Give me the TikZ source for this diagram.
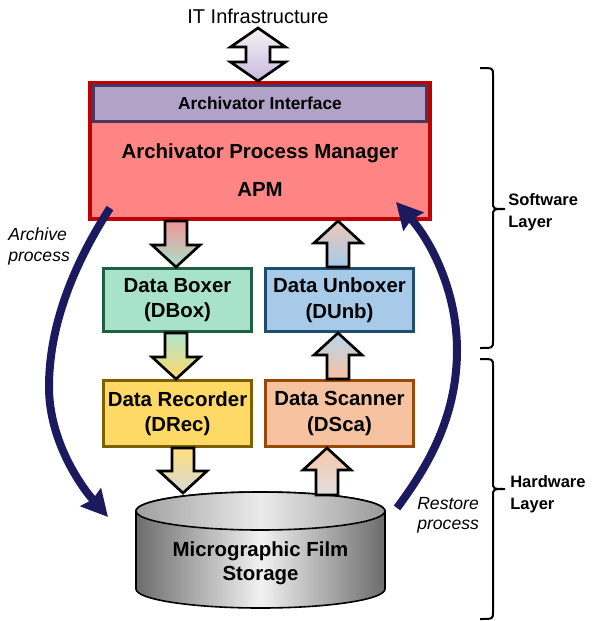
\documentclass[tikz,border=0pt]{standalone}
\usepackage{fontspec}
\setmainfont{Liberation Sans}
\usetikzlibrary{arrows.meta,calc}
\definecolor{navyarc}{RGB}{27,26,94}
\definecolor{apmfill}{RGB}{255,133,133}
\definecolor{apmline}{RGB}{192,0,0}
\definecolor{iffill}{RGB}{179,162,199}
\definecolor{ifline}{RGB}{72,56,96}
\definecolor{boxfill}{RGB}{168,226,203}
\definecolor{boxline}{RGB}{33,94,70}
\definecolor{unbfill}{RGB}{167,202,232}
\definecolor{unbline}{RGB}{31,77,110}
\definecolor{recfill}{RGB}{255,217,102}
\definecolor{recline}{RGB}{127,96,0}
\definecolor{scafill}{RGB}{246,194,160}
\definecolor{scaline}{RGB}{152,72,7}
\definecolor{lav}{RGB}{200,184,222}
\definecolor{pinkarr}{RGB}{240,150,150}
\definecolor{peacharr}{RGB}{236,200,185}
\definecolor{lgray}{RGB}{215,215,215}
\definecolor{cyldark}{RGB}{108,108,108}
\definecolor{cyllight}{RGB}{242,242,242}
\newcommand\blkarrow[5]{%
  \shade[blk, top color=#4, bottom color=#5]
    ($(#1)+(-11,0)$) -- ($(#2)+(-11,#3)$) -- ($(#2)+(-24,#3)$) -- (#2)
    -- ($(#2)+(24,#3)$) -- ($(#2)+(11,#3)$) -- ($(#1)+(11,0)$) -- cycle;}
\begin{document}
\begin{tikzpicture}[x=0.75pt,y=-0.75pt,
  blk/.style={draw=black, line width=2pt, line join=miter},
  box/.style={draw, line width=2.25pt, inner sep=0pt, align=center,
    font=\fontsize{15.3}{19.1}\selectfont\bfseries,
    minimum width=111pt},
  procarc/.style={draw=navyarc, line width=6pt,
    -{Stealth[length=19.5pt, width=20pt, inset=2pt]}},
  bracepath/.style={draw=black, line width=1.5pt},
  layertext/.style={anchor=west, align=left, inner sep=0pt,
    font=\fontsize{12.4}{16}\selectfont\bfseries},
  proctext/.style={anchor=west, align=left, inner sep=0pt,
    font=\fontsize{13.2}{15.5}\selectfont\itshape}]
\useasboundingbox (0,0) rectangle (593,621);

% top label and double arrow
\node[anchor=base, inner sep=0pt, font=\fontsize{15}{18}\selectfont] (it) at (258,23) {IT Infrastructure};

% main boxes
\node[draw=apmline, fill=apmfill, line width=3pt, inner sep=0pt,
      minimum width=255pt, minimum height=102pt] (apm) at (260,151) {};
\node[draw=ifline, fill=iffill, line width=2.25pt, inner sep=0pt,
      minimum width=249.75pt, minimum height=27pt,
      font=\fontsize{13}{15}\selectfont\bfseries] (iface) at (260,103.5) {Archivator Interface};
\node[align=center, inner sep=0pt, font=\fontsize{15.3}{28.9}\selectfont\bfseries]
      (apmtext) at (260,170.3) {Archivator Process Manager\\APM};

\node[box, draw=boxline, fill=boxfill, minimum height=47.25pt] (boxer) at (177.5,300) {Data Boxer\\(DBox)};
\node[box, draw=unbline, fill=unbfill, minimum height=47.25pt] (unboxer) at (339.5,300) {Data Unboxer\\(DUnb)};
\node[box, draw=recline, fill=recfill, minimum height=49.5pt] (recorder) at (177.5,413.5) {Data Recorder\\(DRec)};
\node[box, draw=scaline, fill=scafill, minimum height=49.5pt] (scanner) at (339.5,413.5) {Data Scanner\\(DSca)};

% cylinder
\shade[left color=cyldark, right color=cyldark, middle color=cyllight, draw=black, line width=1.2pt]
  (136,511) -- (136,589) arc[start angle=180, end angle=0, x radius=124.5, y radius=19]
  -- (385,511) arc[start angle=0, end angle=-180, x radius=124.5, y radius=19] -- cycle;
\shade[left color=gray!75, right color=gray!80, middle color=white!92!black, draw=black, line width=1.2pt]
  (260.5,511) ellipse[x radius=124.5, y radius=19];
\node[align=center, inner sep=0pt, font=\fontsize{15.3}{18}\selectfont\bfseries]
  (store) at (260.5,563.2) {Micrographic Film\\Storage};

% connector coordinates
\coordinate (dtop) at (258,28);
\coordinate (dbot) at (258,0 |- apm.north);
\coordinate (a1s) at (176,0 |- apm.south);
\coordinate (a1t) at (176,0 |- boxer.north);
\coordinate (a2s) at (176,0 |- boxer.south);
\coordinate (a2t) at (176,0 |- recorder.north);
\coordinate (a3s) at (183,0 |- recorder.south);
\coordinate (a3t) at (183,493);
\coordinate (b1s) at (338,0 |- unboxer.north);
\coordinate (b1t) at (338,0 |- apm.south);
\coordinate (b2s) at (338,0 |- scanner.north);
\coordinate (b2t) at (338,0 |- unboxer.south);
\coordinate (b3s) at (327,495);
\coordinate (b3t) at (327,0 |- scanner.south);

% double arrow
\shade[blk, top color=white!96!black, bottom color=lav]
  (dtop) -- ($(dtop)+(27.5,19)$) -- ($(dtop)+(12,19)$) -- ($(dbot)+(12,-19)$)
  -- ($(dbot)+(27.5,-19)$) -- (dbot) -- ($(dbot)+(-27.5,-19)$) -- ($(dbot)+(-12,-19)$)
  -- ($(dtop)+(-12,19)$) -- ($(dtop)+(-27.5,19)$) -- cycle;

% block arrows
\blkarrow{a1s}{a1t}{-22}{pinkarr}{boxfill}
\blkarrow{a2s}{a2t}{-22}{boxfill!90!white}{recfill}
\blkarrow{a3s}{a3t}{-22}{recfill!85!white}{lgray}
\blkarrow{b1s}{b1t}{22}{peacharr}{unbfill}
\blkarrow{b2s}{b2t}{22}{unbfill!80!white}{scafill}
\blkarrow{b3s}{b3t}{22}{scafill!90!white}{lgray!80!white}

% process arcs
\coordinate (archS) at (110,208);
\coordinate (archM) at (49,387);
\coordinate (archE) at (108,517);
\coordinate (restS) at (397,508);
\coordinate (restM) at (457,350);
\coordinate (restE) at (396,202);
\draw[procarc] (archS) .. controls (70,270) and (49,330) .. (archM)
  .. controls (49,440) and (80,485) .. (archE);
\draw[procarc] (restS) .. controls (425,470) and (457,420) .. (restM)
  .. controls (457,290) and (430,240) .. (restE);

\node[proctext] (archtxt) at (8,246.5) {Archive\\process};
\node[proctext] (resttxt) at (417,515.4) {Restore\\process};

% braces
\draw[bracepath] (480,68) .. controls (493,68) .. (493,75) -- (493,202)
  .. controls (493,209) .. (505,209) .. controls (493,209) .. (493,216)
  -- (493,341) .. controls (493,348) .. (480,348);
\draw[bracepath] (480,359) .. controls (493,359) .. (493,366) -- (493,482)
  .. controls (493,489) .. (505,489) .. controls (493,489) .. (493,496)
  -- (493,612) .. controls (493,619) .. (480,619);
\node[layertext] (swl) at (508,212.3) {Software\\Layer};
\node[layertext] (hwl) at (510,494.2) {Hardware\\Layer};
\end{tikzpicture}
\end{document}
